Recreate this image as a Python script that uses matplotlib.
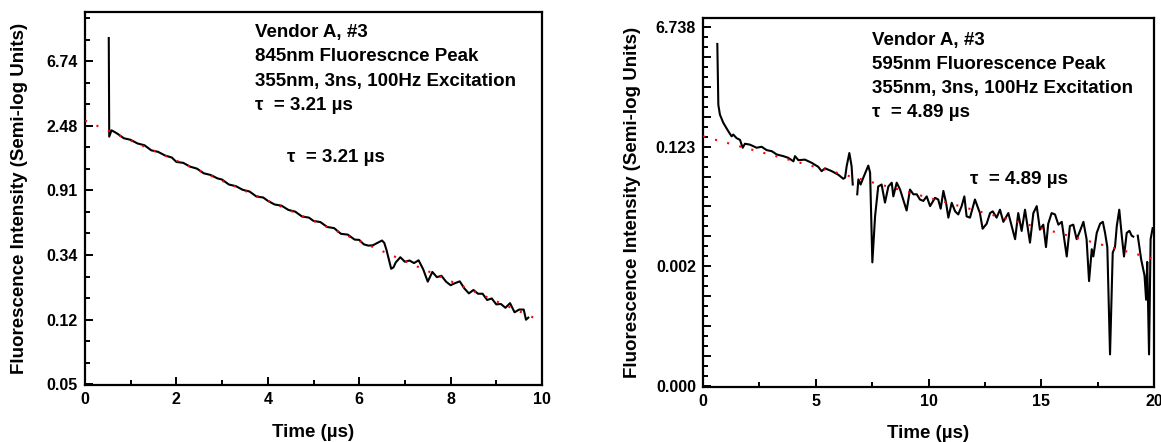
import numpy as np
import matplotlib
matplotlib.use('Agg')
from matplotlib import pyplot as plt
from matplotlib.ticker import NullFormatter

plt.rcParams['font.family'] = ['Liberation Sans', 'DejaVu Sans']
plt.rcParams['font.weight'] = 'bold'
plt.rcParams['axes.labelweight'] = 'bold'

# ---- left panel: 845nm peak ----
t_845 = [0.52, 0.53, 0.58, 0.7, 0.85, 1.0, 1.15, 1.3, 1.45, 1.6, 1.75, 1.9, 2.0,
         2.15, 2.3, 2.45, 2.6, 2.75, 2.9, 3.0, 3.15, 3.3, 3.45, 3.6, 3.75, 3.9,
         4.0, 4.15, 4.3, 4.45, 4.6, 4.75, 4.9, 5.0, 5.15, 5.3, 5.45, 5.6, 5.75,
         5.9, 6.0, 6.1, 6.2, 6.3, 6.4, 6.5, 6.55, 6.6, 6.7, 6.75, 6.8, 6.9, 7.0,
         7.1, 7.2, 7.3, 7.4, 7.5, 7.55, 7.6, 7.7, 7.8, 7.9, 8.0, 8.1, 8.2, 8.3,
         8.4, 8.5, 8.6, 8.7, 8.8, 8.9, 9.0, 9.1, 9.2, 9.3, 9.4, 9.5, 9.6, 9.65, 9.7]
i_845 = [9.7, 2.10, 2.32, 2.21, 2.05, 2.00, 1.89, 1.84, 1.70, 1.66, 1.57, 1.52, 1.42,
         1.40, 1.32, 1.28, 1.19, 1.16, 1.10, 1.08, 1.00, 0.976, 0.922, 0.898, 0.831, 0.818,
         0.777, 0.734, 0.721, 0.675, 0.657, 0.609, 0.599, 0.569, 0.559, 0.518, 0.509, 0.466, 0.460,
         0.426, 0.424, 0.396, 0.388, 0.390, 0.405, 0.420, 0.404, 0.360, 0.271, 0.277, 0.299, 0.324, 0.302,
         0.308, 0.296, 0.309, 0.269, 0.222, 0.239, 0.258, 0.238, 0.243, 0.222, 0.210, 0.217, 0.223, 0.200,
         0.185, 0.195, 0.184, 0.184, 0.167, 0.171, 0.156, 0.157, 0.148, 0.159, 0.138, 0.144, 0.144, 0.123, 0.127]
fit_t_845 = [0.0, 10.0]
fit_i_845 = [2.70, 0.120]
yticks_845 = [0.0454, 0.1234, 0.3355, 0.912, 2.479, 6.739]
ylabels_845 = ['0.05', '0.12', '0.34', '0.91', '2.48', '6.74']

# ---- right panel: 595nm peak ----
t_595 = [0.635, 0.68, 0.75, 0.90, 1.12, 1.27, 1.34, 1.49, 1.64, 1.76, 1.86, 2.08, 2.38,
         2.60, 2.82, 3.05, 3.27, 3.56, 3.78, 4.01, 4.08, 4.23, 4.52, 4.82, 5.11, 5.26,
         5.41, 5.71, 6.00, 6.22, 6.30, 6.37, 6.49, 6.59, 6.64, np.nan,
         6.84, 6.89, 6.99, 7.11, 7.26, 7.33, 7.41, 7.51, 7.63, 7.77, 7.92, 8.07, 8.22,
         8.37, 8.44, 8.59, 8.74, 9.03, 9.18, 9.33, 9.48, 9.62, 9.77, 9.92, 10.07, 10.29,
         10.43, 10.54, 10.66, 10.78, 10.88, 11.03, 11.18, 11.32, 11.47, 11.59, 11.69, 11.84,
         12.06, 12.28, 12.40, 12.58, 12.73, 12.85, 13.02, 13.17, 13.32, 13.54, 13.69, 13.84,
         13.98, 14.13, 14.28, 14.50, 14.65, 14.80, 14.94, 15.09, 15.21, 15.31, 15.46, 15.61,
         15.76, 15.91, 16.13, 16.27, 16.42, 16.57, 16.72, 16.87, 17.01, 17.12, 17.24, 17.31,
         17.46, 17.61, 17.73, 17.83, 17.93, 18.05, 18.17, 18.27, 18.35, 18.46, 18.57, 18.67,
         18.79, 18.91, 19.01, 19.08, np.nan, 19.28, 19.43, 19.58, 19.65, 19.70, 19.78, 19.85, 19.94]
i_595 = [3.82, 0.50, 0.360, 0.274, 0.207, 0.174, 0.185, 0.164, 0.155, 0.119, 0.136, 0.132, 0.119,
         0.123, 0.110, 0.106, 0.095, 0.0899, 0.0850, 0.0756, 0.0899, 0.0785, 0.080, 0.0719, 0.0629, 0.0544,
         0.0598, 0.0544, 0.0483, 0.0422, 0.0438, 0.0640, 0.0998, 0.0640, 0.0348, np.nan,
         0.0251, 0.0413, 0.0348, 0.0438, 0.0575, 0.0655, 0.0518, 0.00258, 0.01195, 0.0326, 0.0348, 0.0190, 0.0326,
         0.0370, 0.0234, 0.0370, 0.0294, 0.0146, 0.0294, 0.0251, 0.0251, 0.0211, 0.0201, 0.0234, 0.0169, 0.0223,
         0.0211, 0.0155, 0.0281, 0.0189, 0.0115, 0.0189, 0.0142, 0.0128, 0.0169, 0.0234, 0.0120, 0.0115,
         0.0211, 0.0134, 0.00794, 0.0094, 0.0134, 0.0142, 0.0115, 0.0150, 0.0100, 0.0134, 0.0087, 0.0056,
         0.0134, 0.00737, 0.0150, 0.00499, 0.0134, 0.0169, 0.0077, 0.0091, 0.0043, 0.0094, 0.0134, 0.0128,
         0.0091, 0.0100, 0.00314, 0.0087, 0.0091, 0.0056, 0.0074, 0.0100, 0.0056, 0.00138, 0.0040, 0.00314,
         0.0069, 0.0094, 0.0100, 0.0069, 0.0043, 0.000119, 0.00357, 0.0043, 0.0087, 0.0150, 0.0063, 0.00314,
         0.0069, 0.0074, 0.0063, 0.0061, np.nan, 0.0063, 0.00286, 0.00166, 0.00074, 0.00262, 0.000119, 0.0056, 0.0081]
fit_t_595 = [0.0, 20.0]
fit_i_595 = [0.174, 0.0029]
yticks_595 = [4.14e-5, 0.00226, 0.1234, 6.738]
ylabels_595 = ['0.000', '0.002', '0.123', '6.738']

notes_845 = ['Vendor A, #3', '845nm Fluorescnce Peak', '355nm, 3ns, 100Hz Excitation',
             '\u03c4  = 3.21 \u00b5s']
notes_595 = ['Vendor A, #3', '595nm Fluorescence Peak', '355nm, 3ns, 100Hz Excitation',
             '\u03c4  = 4.89 \u00b5s']

W, H = 1161, 442
fig = plt.figure(figsize=(W / 100, H / 100), dpi=100)
ax1 = fig.add_axes([85 / W, 1 - 385 / H, 457 / W, 373 / H])
ax2 = fig.add_axes([703 / W, 1 - 387 / H, 451 / W, 369 / H])


def style(ax, xmax, xmajor, xminor):
    ax.set_yscale('log')
    ax.set_xlim(0, xmax)
    ax.set_xticks(xmajor)
    ax.set_xticks(xminor, minor=True)
    ax.set_xticklabels([str(v) for v in xmajor])
    for s in ax.spines.values():
        s.set_linewidth(1.6)
    ax.tick_params(which='both', direction='in', top=False, right=False,
                   labelsize=11.5, width=1.4)
    ax.tick_params(which='major', length=6, pad=5)
    ax.tick_params(which='minor', length=3.5)
    ax.set_xlabel('Time (\u00b5s)', fontsize=13.5)
    ax.set_ylabel('Fluorescence Intensity (Semi-log Units)', fontsize=13.5)


# left
ax1.plot(t_845, i_845, color='black', lw=1.5, zorder=2)
ax1.plot(fit_t_845, fit_i_845, color='red', lw=1.5, ls=(0, (1, 5)), zorder=3)
style(ax1, 10, [0, 2, 4, 6, 8, 10], [1, 3, 5, 7, 9])
lo = np.log(yticks_845[0])
ax1.set_ylim(yticks_845[0] * np.exp(-1 / 64.5), yticks_845[0] * np.exp(372 / 64.5))
ax1.set_yticks(yticks_845)
ax1.set_yticklabels(ylabels_845)
ax1.set_yticks(np.exp(np.arange(lo, np.log(14.5), 1 / 3)), minor=True)
ax1.yaxis.set_minor_formatter(NullFormatter())
ax1.yaxis.set_label_coords(-0.125, 0.5)
ax1.xaxis.set_label_coords(0.5, -0.105)
for k, line in enumerate(notes_845):
    ax1.text(0.372, 0.944 - k * 0.0645, line, transform=ax1.transAxes,
             fontsize=13.5, va='center', ha='left')
ax1.text(0.442, 0.611, notes_845[3], transform=ax1.transAxes,
         fontsize=13.5, va='center', ha='left')

# right
ax2.plot(t_595, i_595, color='black', lw=1.5, zorder=2)
ax2.plot(fit_t_595, fit_i_595, color='red', lw=1.5, ls=(0, (1, 5)), zorder=3)
style(ax2, 20, [0, 5, 10, 15, 20], [2.5, 7.5, 12.5, 17.5])
lo2 = np.log(yticks_595[0])
ax2.set_ylim(yticks_595[0] * np.exp(-1 / 30), yticks_595[-1] * np.exp(9 / 30))
mids = np.exp(np.arange(lo2, np.log(9.0), 1.0))
ax2.set_yticks(mids)
ax2.set_yticklabels([ylabels_595[j // 4] if j % 4 == 0 else '' for j in range(len(mids))])
ax2.set_yticks(np.exp(np.arange(lo2, np.log(9.0), 1 / 3)), minor=True)
ax2.yaxis.set_minor_formatter(NullFormatter())
ax2.yaxis.set_label_coords(-0.137, 0.5)
ax2.xaxis.set_label_coords(0.5, -0.103)
for k, line in enumerate(notes_595):
    ax2.text(0.375, 0.940 - k * 0.065, line, transform=ax2.transAxes,
             fontsize=13.5, va='center', ha='left')
ax2.text(0.592, 0.561, notes_595[3], transform=ax2.transAxes,
         fontsize=13.5, va='center', ha='left')

fig.savefig('out.png', dpi=100)
